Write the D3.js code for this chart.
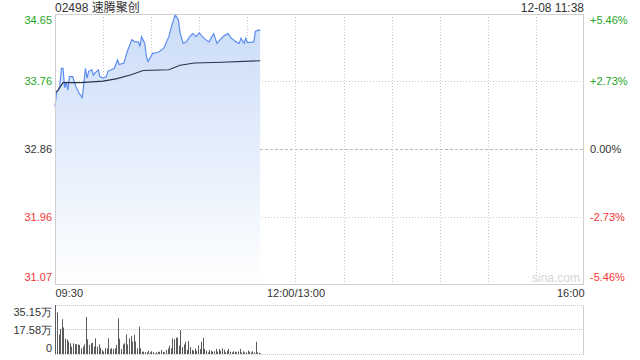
<!DOCTYPE html>
<meta charset="utf-8">
<title>02498 速腾聚创</title>
<html>
<style>
body { margin: 0; background: #fff; }
svg { display: block; font-family: "Liberation Sans", Arial, "Noto Sans CJK SC", sans-serif; }
.axis .domain { display: none; }
.axis text { font-size: 11px; }
</style>
<svg width="640" height="360"></svg>
<script src="https://d3js.org/d3.v7.min.js"></script>
<script>
var stockName = "02498 速腾聚创";
var stamp = "12-08 11:38";
var prevClose = 32.86;
var priceTicks = [34.65, 33.76, 32.86, 31.96, 31.07];
var pctTicks = ["+5.46%", "+2.73%", "0.00%", "-2.73%", "-5.46%"];
var timeTicks = [0, 150, 330];
var timeLabels = ["09:30", "12:00/13:00", "16:00"];
var volTicks = [35.15, 17.58, 0];
var volLabels = ["35.15万", "17.58万", "0"];

// minutes after 09:30 -> price
var priceMin = [0,1,2,3,4,5,6,7,8,9,11,13,15,17,19,20,21,23,24,25,
  27,28,30,32,33,35,37,39,40,43,45,48,50,52,53,54,56,57,58,61,
  62,65,68,71,73,75,77,78,80,82,84,86,88,90,92,94,96,99,101,103,
  106,108,110,113,115,116,118,119,120,124,125,127,128];
var price = [33.42,33.61,33.65,33.69,33.93,33.93,33.67,33.75,33.64,33.82,33.82,33.69,33.60,33.54,33.93,33.80,33.89,33.91,33.84,33.87,
  33.91,33.82,33.80,33.82,33.89,33.91,33.93,34.04,33.98,34.00,34.15,34.31,34.28,34.28,34.22,34.35,34.26,34.09,34.02,34.13,
  34.13,34.15,34.20,34.35,34.51,34.64,34.57,34.40,34.26,34.28,34.35,34.39,34.35,34.40,34.35,34.31,34.28,34.39,34.26,34.31,
  34.37,34.39,34.33,34.28,34.26,34.33,34.26,34.33,34.27,34.28,34.42,34.44,34.43];

// average price line
var avgMin = [0,2,5,16,30,38,47,55,71,78,87,104,128];
var avgPrice = [33.60,33.64,33.74,33.74,33.76,33.79,33.84,33.90,33.91,33.97,34.00,34.01,34.03];

// volume per minute (万)
var volume = [35.15,30,14,18,25,19,11,10.5,9,7.7,
  5.3,7.7,7.2,6.9,6.9,6.5,4.1,5.3,6.9,26.5,
  10.5,6.5,7.7,8.1,5.3,11.2,5.3,6.9,4.5,2.9,
  1.7,4.1,4.1,11.2,3.6,4.1,3.6,4.1,6.5,25.6,
  11,3.6,6.9,7.7,14,6.9,11.2,13,9,13.6,
  9,4.1,19.6,4.1,1.7,1.7,1.5,1.2,2.4,1.2,
  2,1.5,0.5,1.2,1.7,1.5,2.9,1.7,1.2,3,
  4,6,4,11.2,10.5,11.7,11.7,6,17.2,5,
  6.9,8.8,3,9.3,5,3,2.4,4,2.4,6,
  3.6,8.8,11.7,3.6,2.4,1.2,3,2.4,1.7,2,
  3.6,1.7,3.6,2.4,4.1,3,1.2,2.4,3.6,1.7,
  1.2,2,1.7,1.2,1.7,3.6,1.2,2,1.2,1.2,
  2.4,1.7,1.2,2,1.2,8.8,1.2,0.8,0.5];

var green = "#1ea51e", red = "#f53434", dark = "#333";

var svg = d3.select("svg");
var pLeft = 55, pRight = 584, pTop = 14, pBottom = 284;
var vTop = 305, vBottom = 354;

var x = d3.scaleLinear().domain([0, 330]).range([pLeft, pRight]);
var y = d3.scaleLinear().domain([priceTicks[4], priceTicks[0]]).range([pBottom, pTop]);
var yv = d3.scaleLinear().domain([0, volTicks[0]]).range([vBottom, vTop]);

function tickColor(i) { return i < 2 ? green : (i == 2 ? dark : red); }

// gradient for the area
var grad = svg.append("defs").append("linearGradient")
  .attr("id", "fill").attr("gradientUnits", "userSpaceOnUse")
  .attr("x1", 0).attr("y1", pTop).attr("x2", 0).attr("y2", pBottom);
grad.append("stop").attr("offset", 0).attr("stop-color", "#cadcf8");
grad.append("stop").attr("offset", 1).attr("stop-color", "#ffffff");

// title + time stamp
svg.append("text").attr("x", pLeft).attr("y", 11.5)
  .attr("font-size", 12).attr("fill", dark).text(stockName);
svg.append("text").attr("x", pRight).attr("y", 11.5).attr("text-anchor", "end")
  .attr("font-size", 12).attr("fill", dark).text(stamp);

// price grid
var grid = svg.append("g");
d3.range(30, 330, 30).forEach(function(m) {
  grid.append("line").attr("x1", Math.round(x(m)) + 0.5).attr("x2", Math.round(x(m)) + 0.5)
    .attr("y1", pTop).attr("y2", pBottom)
    .attr("stroke", "#c8c8c8").attr("stroke-dasharray", "1,2");
});
[priceTicks[1], priceTicks[3]].forEach(function(p) {
  grid.append("line").attr("x1", pLeft).attr("x2", pRight)
    .attr("y1", Math.round(y(p)) + 0.5).attr("y2", Math.round(y(p)) + 0.5)
    .attr("stroke", "#c8c8c8").attr("stroke-dasharray", "1,2");
});
grid.append("line").attr("x1", pLeft).attr("x2", pRight)
  .attr("y1", Math.round(y(prevClose)) + 0.5).attr("y2", Math.round(y(prevClose)) + 0.5)
  .attr("stroke", "#b8b8b8").attr("stroke-dasharray", "3,2");

// area + lines
var pts = priceMin.map(function(m, i) { return [m, price[i]]; });
svg.append("path").datum(pts)
  .attr("fill", "url(#fill)")
  .attr("d", d3.area().x(function(d) { return x(d[0]); }).y0(pBottom).y1(function(d) { return y(d[1]); }));

svg.append("path").datum(pts)
  .attr("fill", "none").attr("stroke", "#5b8def").attr("stroke-width", 1.2)
  .attr("d", d3.line().x(function(d) { return x(d[0]); }).y(function(d) { return y(d[1]); }));

svg.append("path").datum(avgMin.map(function(m, i) { return [m, avgPrice[i]]; }))
  .attr("fill", "none").attr("stroke", "#2b3447").attr("stroke-width", 1.1)
  .attr("d", d3.line().x(function(d) { return x(d[0]); }).y(function(d) { return y(d[1]); }));

// frame
svg.append("rect").attr("x", pLeft + 0.5).attr("y", pTop + 0.5)
  .attr("width", pRight - pLeft - 1).attr("height", pBottom - pTop)
  .attr("fill", "none").attr("stroke", "#cfcfcf");

// watermark
svg.append("text").attr("x", pRight - 4).attr("y", 282).attr("text-anchor", "end")
  .attr("font-size", 12).attr("fill", "#d6d6d6").text("sina.com");

// price axes
var yl = svg.append("g").attr("class", "axis").attr("transform", "translate(" + (pLeft - 3) + ",0)")
  .call(d3.axisLeft(y).tickValues(priceTicks).tickSize(0).tickPadding(0).tickFormat(d3.format(".2f")));
var yr = svg.append("g").attr("class", "axis").attr("transform", "translate(" + (pRight + 6) + ",0)")
  .call(d3.axisRight(y).tickValues(priceTicks).tickSize(0).tickPadding(0)
    .tickFormat(function(d, i) { return pctTicks[i]; }));
[yl, yr].forEach(function(ax) {
  ax.selectAll("text")
    .attr("fill", function(d, i) { return tickColor(i); })
    .attr("dy", function(d, i) { return i == 0 ? "0.9em" : (i == 4 ? "-0.3em" : "0.32em"); });
});

// time axis
var tx = svg.append("g").attr("class", "axis").attr("transform", "translate(0," + (pBottom + 3) + ")")
  .call(d3.axisBottom(x).tickValues(timeTicks).tickSize(0).tickPadding(0)
    .tickFormat(function(d, i) { return timeLabels[i]; }));
tx.selectAll("text").attr("fill", dark).attr("dy", "0.9em")
  .attr("text-anchor", function(d, i) { return i == 0 ? "start" : (i == 2 ? "end" : "middle"); });

// volume pane
var vg = svg.append("g");
volTicks.forEach(function(v) {
  vg.append("line").attr("x1", pLeft).attr("x2", pRight)
    .attr("y1", Math.round(yv(v)) + 0.5).attr("y2", Math.round(yv(v)) + 0.5)
    .attr("stroke", "#c8c8c8").attr("stroke-dasharray", "1,1");
});
vg.append("line").attr("x1", pRight - 0.5).attr("x2", pRight - 0.5)
  .attr("y1", vTop).attr("y2", vBottom).attr("stroke", "#cfcfcf");

vg.selectAll("rect").data(volume).enter().append("rect")
  .attr("x", function(d, i) { return Math.floor(x(i + 0.5)); })
  .attr("width", 1)
  .attr("y", function(d) { return yv(d); })
  .attr("height", function(d) { return vBottom - yv(d); })
  .attr("fill", "#5c5c5c");

var va = svg.append("g").attr("class", "axis").attr("transform", "translate(" + (pLeft - 3) + ",0)")
  .call(d3.axisLeft(yv).tickValues(volTicks).tickSize(0).tickPadding(0)
    .tickFormat(function(d, i) { return volLabels[i]; }));
va.selectAll("text").attr("fill", dark)
  .attr("dy", function(d, i) { return i == 0 ? "0.95em" : (i == 2 ? "-0.2em" : "0.32em"); });
</script>
</html>
